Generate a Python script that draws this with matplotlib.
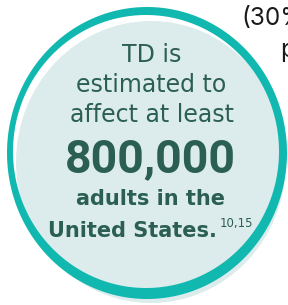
import numpy as np
import matplotlib
matplotlib.use("Agg")
import matplotlib.pyplot as plt
from matplotlib.path import Path
from matplotlib.patches import PathPatch, Ellipse

# text content of the callout
intro_lines = ["TD is", "estimated to", "affect at least"]
headline = "800,000"
bold_lines = ["adults in the", "United States."]
footnote = "10,15"
side_text = ["(30%", "p"]

TEAL = "#11b8b0"
PALE = "#dcecec"
GREEN = "#2b5f52"
BODY_FONT = ["DejaVu Sans"]
NUM_FONT = ["Roboto", "DejaVu Sans"]
SIDE_FONT = ["Inter", "DejaVu Sans"]


def ellipse_verts(cx, cy, rx, ry, n=240):
    t = np.linspace(0, 2 * np.pi, n)
    return np.column_stack([cx + rx * np.cos(t), cy + ry * np.sin(t)])


fig = plt.figure(figsize=(2.88, 3.05), dpi=100)
ax = fig.add_axes([0, 0, 1, 1])
ax.set_xlim(0, 288)
ax.set_ylim(305, 0)
ax.axis("off")

# pale disc, slightly offset down-right
ax.add_patch(Ellipse((151, 162), 270, 282, facecolor=PALE, edgecolor="none", zorder=1))

# teal ring, a bit thicker at the bottom right
outer = Path(ellipse_verts(147, 153, 140, 146), closed=True)
inner = Path(ellipse_verts(146, 151.5, 133, 136.5)[::-1], closed=True)
ring = Path.make_compound_path(outer, inner)
ax.add_patch(PathPatch(ring, facecolor=TEAL, edgecolor="none", zorder=2))

# regular intro lines
for i, line in enumerate(intro_lines):
    ax.text(151.5, 62 + 30 * i, line, ha="center", va="baseline", fontsize=17,
            color=GREEN, family=BODY_FONT, zorder=3)

ax.text(150, 172, headline, ha="center", va="baseline", fontsize=33.5,
        fontweight="bold", color=GREEN, family=NUM_FONT, zorder=3)

ax.text(151, 205, bold_lines[0], ha="center", va="baseline", fontsize=15,
        fontweight="bold", color=GREEN, family=BODY_FONT, zorder=3)
ax.text(217, 237, bold_lines[1], ha="right", va="baseline", fontsize=15,
        fontweight="bold", color=GREEN, family=BODY_FONT, zorder=3)
ax.text(219.5, 227, footnote, ha="left", va="baseline", fontsize=8.5,
        color=GREEN, family=BODY_FONT, zorder=3)

# text running in from the neighbouring column
ax.text(241, 25, side_text[0], ha="left", va="baseline", fontsize=17.5,
        color="#1a1a1a", family=SIDE_FONT, zorder=3)
ax.text(280, 57, side_text[1], ha="left", va="baseline", fontsize=17.5,
        color="#1a1a1a", family=SIDE_FONT, zorder=3)

fig.savefig("out.png", dpi=100)
